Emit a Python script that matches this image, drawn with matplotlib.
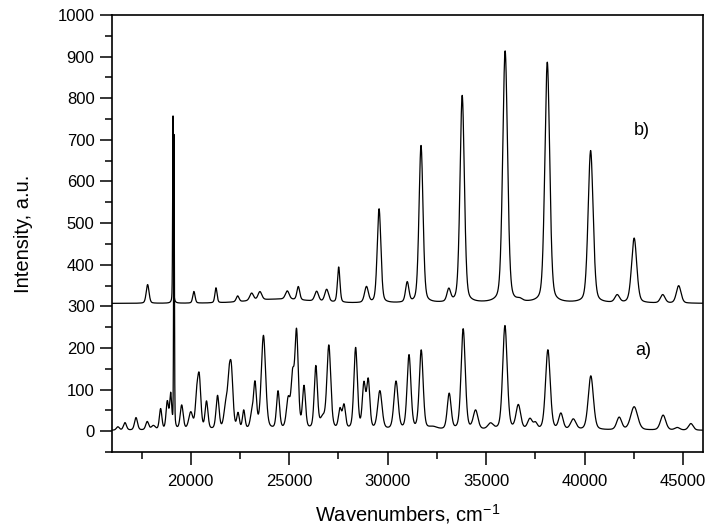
import numpy as np
import matplotlib
matplotlib.use('Agg')
from matplotlib import pyplot as plt
from matplotlib.ticker import MultipleLocator

plt.rcParams['font.family'] = ['Liberation Sans', 'DejaVu Sans']
plt.rcParams['mathtext.fontset'] = 'custom'
plt.rcParams['mathtext.rm'] = 'Liberation Sans'

# spectrum a): peak centre (cm-1), height, fwhm
a_pos = [16300, 16660, 17220, 17790, 18100, 18470, 18810, 18980, 19150, 19540,
         20000, 20300, 20430, 20800, 21360, 21780, 21940, 22060, 22400, 22690,
         23090, 23260, 23690, 24430, 24950, 25170, 25370, 25750, 26350, 26700,
         27010, 27575, 27780, 28370, 28790, 29010, 29600, 30420, 31080, 31700,
         32300, 33120, 33830, 34460, 35220, 35950, 36630, 37220, 37500, 38130,
         38790, 39420, 40310, 41750, 42510, 43980, 44700, 45390]
a_height = [8, 18, 30, 20, 10, 50, 66, 82, 705, 58,
            40, 65, 120, 66, 80, 55, 85, 130, 36, 44,
            30, 108, 225, 90, 70, 115, 232, 100, 150, 25,
            200, 46, 56, 195, 105, 115, 92, 115, 178, 190,
            6, 86, 242, 45, 14, 250, 58, 25, 14, 192,
            38, 25, 130, 30, 56, 36, 6, 16]
a_width = [180, 180, 180, 180, 240, 150, 150, 120, 45, 180,
           240, 170, 190, 170, 180, 220, 180, 200, 150, 150,
           180, 180, 260, 180, 220, 180, 200, 180, 190, 300,
           230, 180, 180, 210, 190, 190, 260, 250, 230, 230,
           500, 230, 250, 280, 320, 270, 280, 280, 220, 280,
           260, 320, 310, 300, 420, 320, 300, 280]
a_base = 2

# spectrum b)
b_pos = [17810, 19100, 20160, 21280, 22380, 23090, 23510, 24500, 24900, 25460,
         26390, 26900, 27510, 28920, 29560, 30990, 31690, 33100, 33780, 35960,
         36700, 38100, 40300, 41650, 42510, 43960, 44770]
b_height = [45, 450, 28, 36, 14, 18, 20, 10, 20, 32,
            24, 30, 85, 38, 226, 48, 378, 30, 498, 605,
            5, 578, 366, 18, 156, 20, 42]
b_width = [170, 45, 140, 130, 170, 230, 230, 3500, 230, 170,
           230, 230, 150, 230, 220, 200, 240, 220, 260, 290,
           300, 290, 300, 280, 310, 280, 280]
b_base = 307

label_text = ['a)', 'b)']
label_x = [42950, 42900]
label_y = [193, 722]


def spectrum(x, pos, height, width, base, eta=0.3):
    y = np.full_like(x, float(base))
    for c, h, w in zip(pos, height, width):
        g = np.exp(-4 * np.log(2) * (x - c) ** 2 / w ** 2)
        l = 1 / (1 + 4 * (x - c) ** 2 / w ** 2)
        y += h * ((1 - eta) * g + eta * l)
    return y


wn = np.arange(16000, 46001, 5.0)
ya = spectrum(wn, a_pos, a_height, a_width, a_base)
yb = spectrum(wn, b_pos, b_height, b_width, b_base)

fig = plt.figure(figsize=(7.1, 5.28), dpi=100)
ax = fig.add_axes([0.1577, 0.1439, 0.8323, 0.8277])

ax.plot(wn, ya, color='k', lw=0.9)
ax.plot(wn, yb, color='k', lw=0.9)

for t, x, y in zip(label_text, label_x, label_y):
    ax.text(x, y, t, fontsize=13, ha='center', va='center')

ax.set_xlim(16000, 46000)
ax.set_ylim(-50, 1000)
ax.xaxis.set_major_locator(MultipleLocator(5000))
ax.xaxis.set_minor_locator(MultipleLocator(2500))
ax.yaxis.set_major_locator(MultipleLocator(100))
ax.yaxis.set_minor_locator(MultipleLocator(50))
ax.tick_params(which='major', direction='out', length=9, width=1.1, labelsize=12)
ax.tick_params(axis='x', which='major', pad=7)
ax.tick_params(which='minor', direction='out', length=5, width=1.1)
ax.tick_params(top=False, right=False)
for s in ax.spines.values():
    s.set_linewidth(1.2)

ax.set_xlabel('Wavenumbers, cm$^{\\mathregular{-1}}$', fontsize=14.5, labelpad=9)
ax.set_ylabel('Intensity, a.u.', fontsize=14.5, labelpad=18)

fig.savefig('out.png', dpi=100)
